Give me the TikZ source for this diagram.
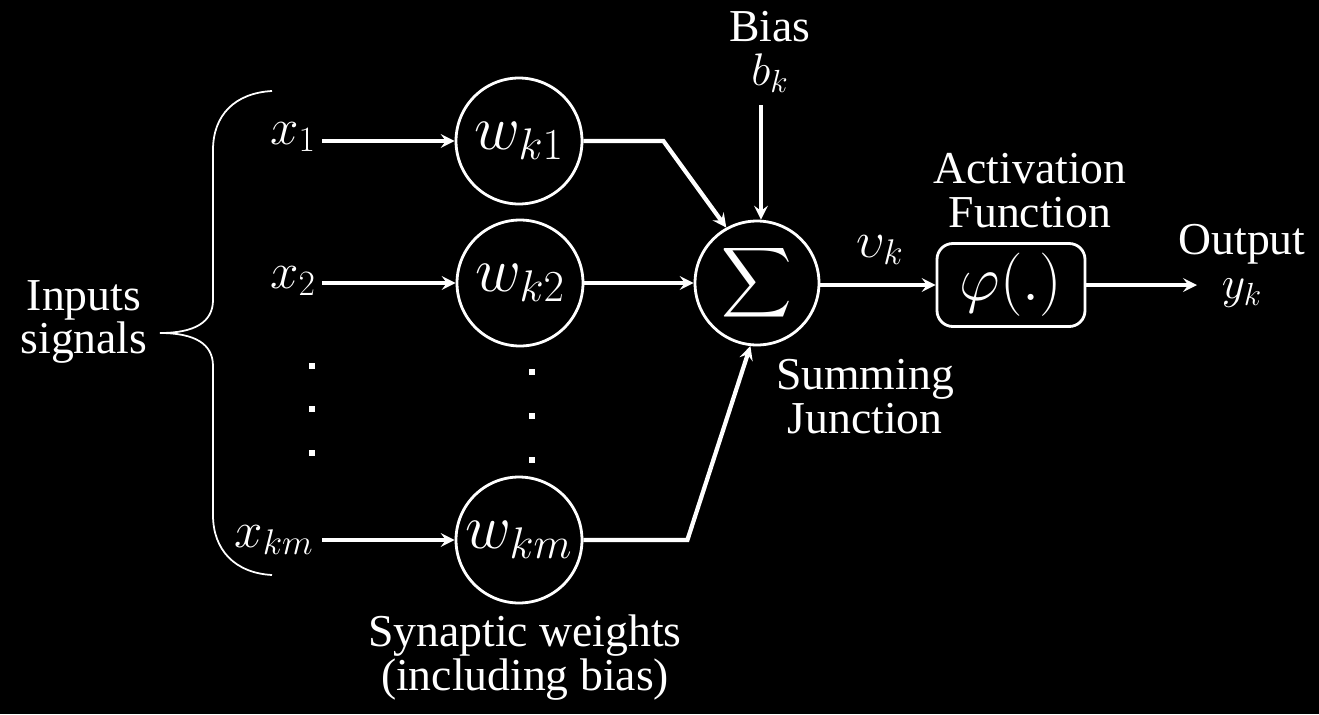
\RequirePackage{fix-cm}
\documentclass[tikz,border=0pt]{standalone}
\usepackage{amsmath}
\usepackage{graphicx}
\usepackage{fontspec}
\setmainfont{Liberation Serif}
\usepackage{tikz}
\usetikzlibrary{arrows.meta}
\usetikzlibrary{positioning}

\begin{document}
\begin{tikzpicture}[x=0.02cm,y=-0.02cm,white,
    wnode/.style={circle,draw,line width=1.6pt,minimum size=2.52cm,inner sep=0pt,
      font=\fontsize{36}{36}\selectfont},
    lbl/.style={font=\fontsize{26}{25}\selectfont,align=center,inner sep=1pt},
    mlbl/.style={font=\fontsize{29}{29}\selectfont,inner sep=1pt},
    arr/.style={->,>=stealth,line width=2.4pt}]
        \def\xa{322}

        % background
        \fill[black] (0,0) rectangle (1319,714);
        \useasboundingbox (0,0) rectangle (1319,714);

        % --- inputs ---
        \node[mlbl] (x1) at (293,137) {$x_1$};
        \node[mlbl] (x2) at (293,281) {$x_2$};
        \node[mlbl] (xm) at (274,540) {$x_{km}$};
        \node[lbl] (inputs) at (84,322) {Inputs\\signals};

        % brace
        \draw[line width=1pt] (272,91) .. controls (235,93) and (213,115) .. (213,150)
          -- (213,300) .. controls (213,322) and (195,333) .. (160,333)
          .. controls (195,333) and (213,344) .. (213,366)
          -- (213,515) .. controls (213,550) and (235,573) .. (272,575);

        % --- weights ---
        \node[wnode] (w1) at (519,141) {$w_{k1}$};
        \node[wnode] (w2) at (520,283) {$w_{k2}$};
        \node[wnode] (wm) at (519,540) {$w_{km}$};
        \node[lbl] (synaptic) at (525,658) {Synaptic weights\\(including bias)};

        % dots
        \foreach \y in {363,406,450} \fill (309,\y) rectangle ++(6,6);
        \foreach \y in {369,413,457} \fill (529,\y) rectangle ++(6,6);

        % input arrows
        \draw[arr] (\xa,0 |- w1.west) -- (w1.west);
        \draw[arr] (\xa,0 |- w2.west) -- (w2.west);
        \draw[arr] (\xa,0 |- wm.west) -- (wm.west);

        % --- summing junction ---
        \node[wnode,minimum size=2.48cm] (sum) at (757,283) {\scalebox{1.12}{$\displaystyle\sum$}};
        \node[lbl] (bias) at (770,52) {Bias\\$b_k$};
        \node[lbl] (summing) at (865,397) {Summing\\Junction};
        \coordinate (btop) at (761,105);

        \draw[arr] (btop) -- (btop |- sum.north);
        \draw[arr] (w1.east) -- ++(80,0) -- (sum.119);
        \draw[arr] (w2.east) -- (sum.west);
        \draw[arr] (wm.east) -- ++(104,0) -- (sum.264);

        % --- activation ---
        \node[draw,rounded corners=9pt,line width=1.6pt,minimum width=2.96cm,minimum height=1.66cm,
          font=\fontsize{36}{36}\selectfont] (phi) at (1011,285) {$\varphi(.)$};
        \node[lbl] (activation) at (1030,191) {Activation\\Function};
        \node[mlbl] (vk) at (880,250) {$\upsilon_k$};
        \draw[arr] (sum.east |- phi.west) -- (phi.west);

        % output
        \coordinate (yout) at (1197,285);
        \node[lbl] (output) at (1242,266) {Output\\$y_k$};
        \draw[arr] (phi.east) -- (yout);
      \end{tikzpicture}
\end{document}
